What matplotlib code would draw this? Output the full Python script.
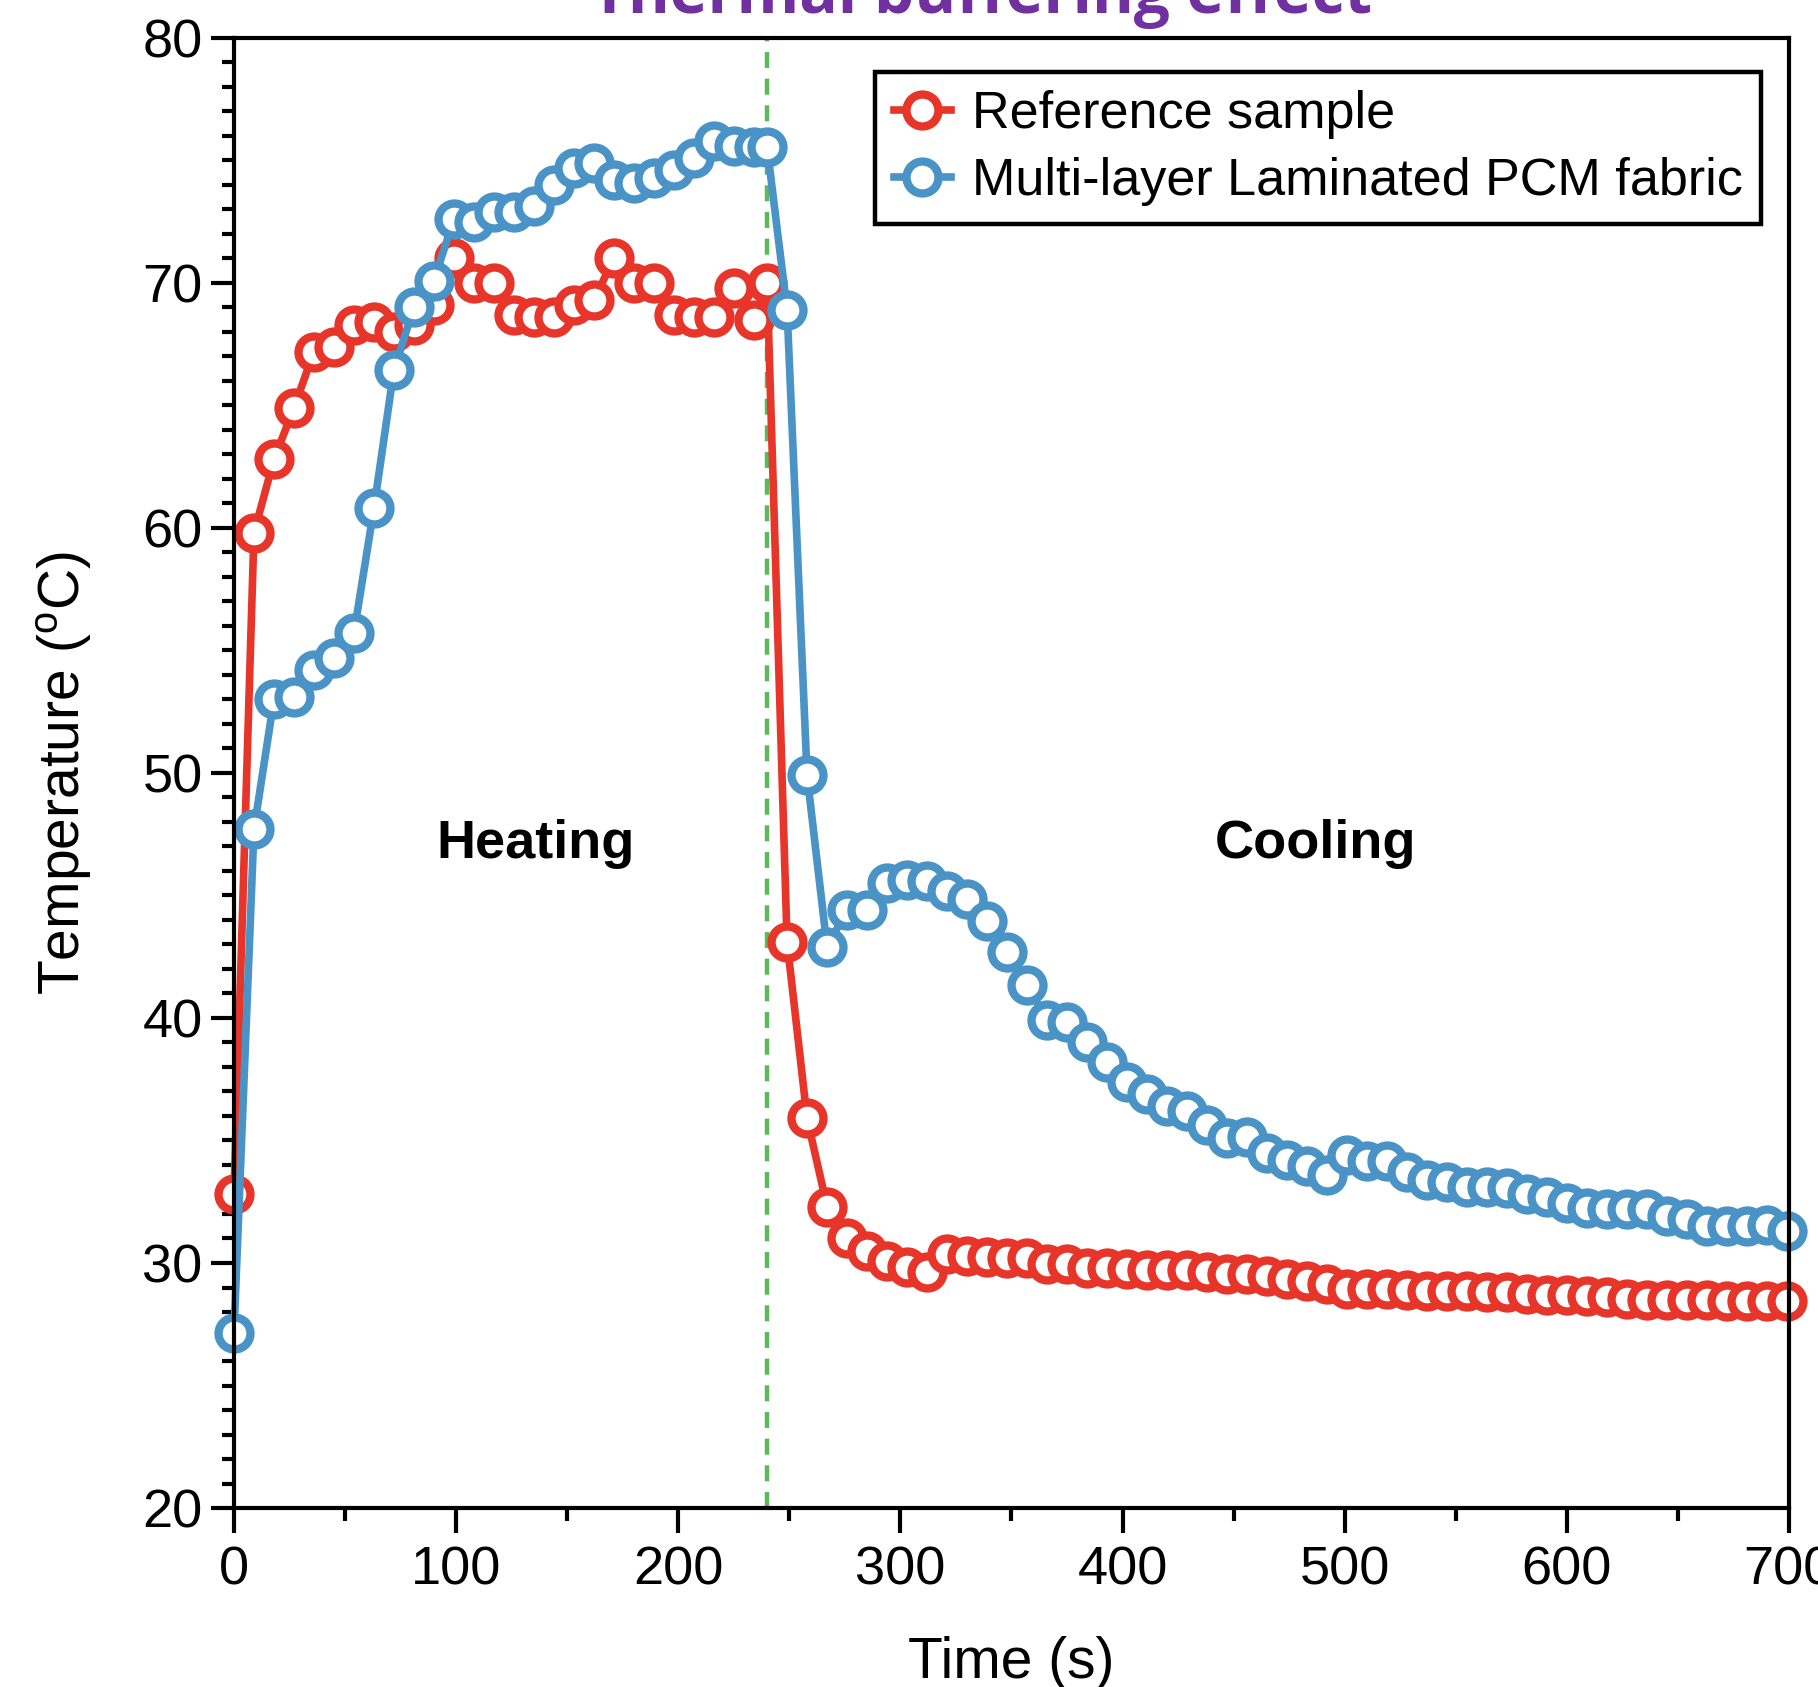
import matplotlib
matplotlib.use("Agg")
import matplotlib.pyplot as plt
from matplotlib.ticker import MultipleLocator

plt.rcParams['font.family'] = ['Liberation Sans Narrow', 'Liberation Sans', 'DejaVu Sans']

# sampling times (s)
time_s = [0, 9, 18, 27, 36, 45, 54, 63, 72, 81, 90, 99, 108, 117, 126, 135, 144,
          153, 162, 171, 180, 189, 198, 207, 216, 225, 234, 240,
          249, 258, 267, 276, 285, 294, 303, 312, 321, 330, 339, 348, 357, 366,
          375, 384, 393, 402, 411, 420, 429, 438, 447, 456, 465, 474, 483, 492,
          501, 510, 519, 528, 537, 546, 555, 564, 573, 582, 591, 600, 609, 618,
          627, 636, 645, 654, 663, 672, 681, 690, 699]

# Reference sample temperature (C)
ref_temp = [32.8, 59.8, 62.8, 64.9, 67.2, 67.4, 68.3, 68.4, 68.0, 68.3, 69.1,
            71.0, 70.0, 70.0, 68.7, 68.6, 68.6, 69.1, 69.3, 71.0, 70.0, 70.0,
            68.7, 68.6, 68.6, 69.8, 68.5, 70.0,
            43.1, 35.9, 32.3, 31.0, 30.5, 30.1, 29.85, 29.65, 30.35, 30.3, 30.25,
            30.2, 30.2, 29.95, 29.95, 29.8, 29.8, 29.75, 29.7, 29.7, 29.7, 29.65,
            29.55, 29.55, 29.45, 29.35, 29.25, 29.15, 28.95, 28.95, 28.95, 28.9,
            28.85, 28.85, 28.85, 28.8, 28.8, 28.75, 28.7, 28.7, 28.65, 28.6,
            28.55, 28.5, 28.5, 28.5, 28.5, 28.45, 28.45, 28.45, 28.45]

# Multi-layer laminated PCM fabric temperature (C)
pcm_temp = [27.15, 47.7, 53.0, 53.1, 54.2, 54.7, 55.7, 60.8, 66.45, 69.0, 70.1,
            72.6, 72.5, 72.9, 72.9, 73.15, 74.0, 74.7, 74.9, 74.2, 74.1, 74.3,
            74.6, 75.1, 75.8, 75.6, 75.55, 75.55,
            68.9, 49.9, 42.9, 44.4, 44.4, 45.5, 45.65, 45.6, 45.2, 44.85, 43.95,
            42.7, 41.35, 39.9, 39.85, 39.0, 38.2, 37.4, 36.9, 36.4, 36.2, 35.65,
            35.1, 35.15, 34.5, 34.2, 33.95, 33.6, 34.4, 34.15, 34.15, 33.7, 33.4,
            33.3, 33.1, 33.1, 33.05, 32.8, 32.7, 32.45, 32.25, 32.2, 32.2, 32.2,
            31.9, 31.8, 31.5, 31.5, 31.5, 31.55, 31.3]

switch_time = 240
red = '#E8352A'
blue = '#4A93C6'
green = '#5DB85A'

fig = plt.figure(figsize=(18.18, 16.87), dpi=100)
ax = fig.add_axes([0.1287, 0.1061, 0.8553, 0.8714])

ax.axvline(switch_time, color=green, lw=3.2, dashes=(3.6, 2.4), zorder=1)

mk = dict(marker='o', ms=23, mew=6, mfc='white', clip_on=False, zorder=3)
ax.plot(time_s, ref_temp, color=red, lw=5.5, mec=red,
        label='Reference sample', **mk)
ax.plot(time_s, pcm_temp, color=blue, lw=5.5, mec=blue,
        label='Multi-layer Laminated PCM fabric', **mk)

ax.set_xlim(0, 700)
ax.set_ylim(20, 80)
ax.xaxis.set_major_locator(MultipleLocator(100))
ax.xaxis.set_minor_locator(MultipleLocator(50))
ax.yaxis.set_major_locator(MultipleLocator(10))
ax.yaxis.set_minor_locator(MultipleLocator(1))

for s in ax.spines.values():
    s.set_linewidth(3)
    s.set_zorder(4)
ax.tick_params(axis='both', which='both', direction='out', width=3,
               labelsize=39, colors='black')
ax.tick_params(axis='y', which='major', length=16.5, pad=6)
ax.tick_params(axis='y', which='minor', length=9)
ax.tick_params(axis='x', which='major', length=18, pad=9)
ax.tick_params(axis='x', which='minor', length=9)

ax.set_xlabel('Time (s)', fontsize=41)
ax.set_ylabel(r'Temperature ($\mathregular{^o}$C)', fontsize=41)
ax.xaxis.set_label_coords(0.5, -0.087)
ax.yaxis.set_label_coords(-0.090, 0.5)

ax.text(135.7, 47.1, 'Heating', fontsize=39, fontweight='bold',
        ha='center', va='center')
ax.text(487, 47.1, 'Cooling', fontsize=39, fontweight='bold',
        ha='center', va='center')

leg = ax.legend(loc='upper right', bbox_to_anchor=(0.982, 0.977),
                borderaxespad=0, fontsize=37.5, handlelength=1.1,
                handletextpad=0.4, labelspacing=0.35, borderpad=0.35,
                fancybox=False, framealpha=1, edgecolor='black')
leg.get_frame().set_linewidth(3.2)

fig.text(0.540, 1 - 13 / 1687, 'Thermal buffering effect', color='#7030A0',
         fontsize=46, fontweight='bold', family=['Open Sans', 'DejaVu Sans'],
         ha='center', va='baseline')

fig.savefig('out.png', dpi=100)
